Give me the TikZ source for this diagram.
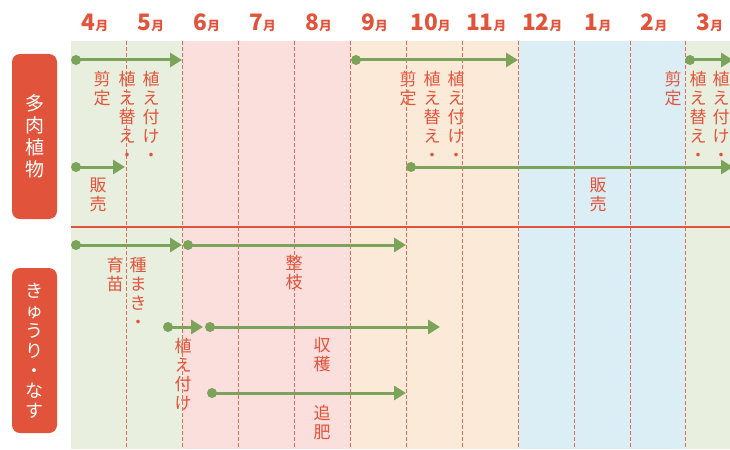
\documentclass[tikz,border=0pt]{standalone}
\usepackage{fontspec}
\newfontfamily\jp{Noto Sans CJK JP}
\usetikzlibrary{arrows.meta}
\definecolor{myred}{HTML}{E2533B}
\definecolor{mygreen}{HTML}{7BA35A}
\definecolor{bggreen}{HTML}{E8EFDF}
\definecolor{bgpink}{HTML}{FADFDC}
\definecolor{bgpeach}{HTML}{FCEAD8}
\definecolor{bgblue}{HTML}{DCEEF5}
\begin{document}
\begin{tikzpicture}[x=0.75pt,y=-0.75pt,
  lbl/.style={text=myred, font=\jp\fontsize{12.75}{14.25}\selectfont, align=center, inner sep=0pt, anchor=north},
  dotnode/.style={circle, fill=mygreen, inner sep=0pt, minimum size=7.5pt},
  arr/.style={draw=mygreen, line width=2.25pt, -{Triangle[length=9pt,width=10.5pt]}},
  month/.style={text=myred, anchor=base, inner sep=0pt},
  sidebox/.style={fill=myred, rounded corners=6pt, text=white, align=center, inner sep=0pt, minimum width=33.75pt, minimum height=123.75pt},
  grid/.style={draw=myred!85, line width=0.75pt, dash pattern=on 3pt off 1.5pt}]
\useasboundingbox (0,0) rectangle (730,449);
\fill[white] (0,0) rectangle (730,449);
% backgrounds
\fill[bggreen] (71,41) rectangle (182.8,449);
\fill[bgpink] (182.8,41) rectangle (350.5,449);
\fill[bgpeach] (350.5,41) rectangle (518.2,449);
\fill[bgblue] (518.2,41) rectangle (685.9,449);
\fill[bggreen] (685.9,41) rectangle (730,449);
% grid lines
\foreach \i in {1,...,11} {\draw[grid] ({71+55.9*\i},41) -- ({71+55.9*\i},449);}
\draw[myred, line width=1.1pt] (71,227) -- (730,227);
% months
\foreach \i/\t in {0/4,1/5,2/6,3/7,4/8,5/9,6/10,7/11,8/12,9/1,10/2,11/3} {
  \node[month] (m\t) at ({71+55.9*\i+27.95-4},31) {\jp\bfseries\fontsize{17}{17}\selectfont\t\fontsize{9.5}{9.5}\selectfont 月};
}
% side boxes
\node[sidebox, font=\jp\fontsize{14.25}{16.5}\selectfont] (tan) at (34.5,136.5) {多\\肉\\植\\物};
\node[sidebox, font=\jp\fontsize{13.5}{15}\selectfont] (veg) at (34.5,350.5) {き\\ゅ\\う\\り\\・\\な\\す};
% succulent arrows
\node[dotnode] (d1) at (76,60) {};
\coordinate (e1) at (182,60);
\draw[arr] (d1.center) -- (e1);
\node[dotnode] (d2) at (76,167) {};
\coordinate (e2) at (125,167);
\draw[arr] (d2.center) -- (e2);
\node[dotnode] (d3) at (356,60) {};
\coordinate (e3) at (518,60);
\draw[arr] (d3.center) -- (e3);
\node[dotnode] (d4) at (411,167) {};
\coordinate (e4) at (733,167);
\draw[arr] (d4.center) -- (e4);
\node[dotnode] (d5) at (690,60) {};
\coordinate (e5) at (733,60);
\draw[arr] (d5.center) -- (e5);
% vegetable arrows
\node[dotnode] (f1) at (76,245) {};
\coordinate (g1) at (182,245);
\draw[arr] (f1.center) -- (g1);
\node[dotnode] (f2) at (188,245) {};
\coordinate (g2) at (406,245);
\draw[arr] (f2.center) -- (g2);
\node[dotnode] (f3) at (168,327) {};
\coordinate (g3) at (203,327);
\draw[arr] (f3.center) -- (g3);
\node[dotnode] (f4) at (210,327) {};
\coordinate (g4) at (440,327);
\draw[arr] (f4.center) -- (g4);
\node[dotnode] (f5) at (212,393) {};
\coordinate (g5) at (406,393);
\draw[arr] (f5.center) -- (g5);
% labels
\node[lbl] (l1) at (102,71) {剪\\定};
\node[lbl] (l2) at (127,71) {植\\え\\替\\え\\・};
\node[lbl] (l3) at (151,71) {植\\え\\付\\け\\・};
\node[lbl] (l4) at (98,178) {販\\売};
\node[lbl] (l5) at (408,71) {剪\\定};
\node[lbl] (l6) at (432,71) {植\\え\\替\\え\\・};
\node[lbl] (l7) at (456,71) {植\\え\\付\\け\\・};
\node[lbl] (l8) at (598,178) {販\\売};
\node[lbl] (l9) at (673,71) {剪\\定};
\node[lbl] (l10) at (698,71) {植\\え\\替\\え\\・};
\node[lbl] (l11) at (721,71) {植\\え\\付\\け\\・};
\node[lbl] (k1) at (115,257) {育\\苗};
\node[lbl] (k2) at (138,257) {種\\ま\\き\\・};
\node[lbl] (k3) at (294,255) {整\\枝};
\node[lbl] (k4) at (183,338) {植\\え\\付\\け};
\node[lbl] (k5) at (322,337) {収\\穫};
\node[lbl] (k6) at (322,405) {追\\肥};
\end{tikzpicture}
\end{document}
